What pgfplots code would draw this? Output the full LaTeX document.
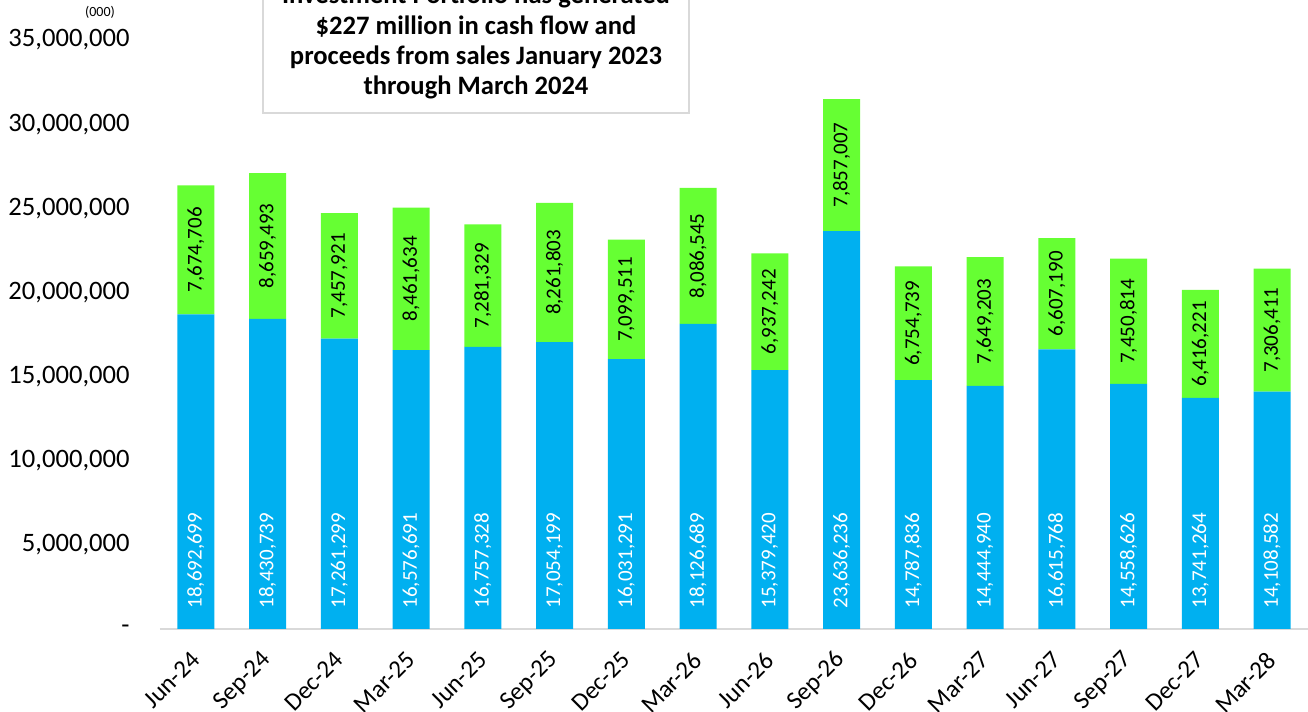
\documentclass[border=0pt]{standalone}
\usepackage{pgfplots}
\pgfplotsset{compat=1.18}
\usepackage{pgfplotstable}
\usepackage{fontspec}
\setmainfont{Carlito}
\definecolor{cblue}{HTML}{00B0F0}
\definecolor{cgreen}{HTML}{66FF33}
\definecolor{cgrid}{HTML}{D9D9D9}
\pgfplotstableread{
x b g bl gl
0 18692699 7674706 18,692,699 7,674,706
1 18430739 8659493 18,430,739 8,659,493
2 17261299 7457921 17,261,299 7,457,921
3 16576691 8461634 16,576,691 8,461,634
4 16757328 7281329 16,757,328 7,281,329
5 17054199 8261803 17,054,199 8,261,803
6 16031291 7099511 16,031,291 7,099,511
7 18126689 8086545 18,126,689 8,086,545
8 15379420 6937242 15,379,420 6,937,242
9 23636236 7857007 23,636,236 7,857,007
10 14787836 6754739 14,787,836 6,754,739
11 14444940 7649203 14,444,940 7,649,203
12 16615768 6607190 16,615,768 6,607,190
13 14558626 7450814 14,558,626 7,450,814
14 13741264 6416221 13,741,264 6,416,221
15 14108582 7306411 14,108,582 7,306,411
}\datatable
\begin{document}
\begin{tikzpicture}
\useasboundingbox (-80pt,-41.5pt) rectangle (574pt,314.5pt);
\pgfplotsset{common/.style={
  at={(0,0)}, anchor=south west,
  width=574pt, height=294.5pt, scale only axis,
  xmin=-0.5, xmax=15.5, ymin=0, ymax=35000000}}
\begin{axis}[common,
  ybar stacked, bar width=0.516,
  axis x line=bottom, axis y line=left,
  axis line style={-},
  x axis line style={draw=cgrid, line width=1pt},
  y axis line style={draw=none},
  major tick length=0pt,
  scaled y ticks=false,
  xtick={0,...,15},
  xticklabels={Jun-24,Sep-24,Dec-24,Mar-25,Jun-25,Sep-25,Dec-25,Mar-26,Jun-26,Sep-26,Dec-26,Mar-27,Jun-27,Sep-27,Dec-27,Mar-28},
  xticklabel style={font=\fontsize{12.5}{15}\selectfont, inner sep=0pt, rotate=45, anchor=east},
  xticklabel shift=13.5pt,
  ytick={0,5000000,10000000,15000000,20000000,25000000,30000000,35000000},
  yticklabels={{-\hspace{2pt}},{5,000,000},{10,000,000},{15,000,000},{20,000,000},{25,000,000},{30,000,000},{35,000,000}},
  yticklabel style={font=\fontsize{13.3}{15}\selectfont, inner sep=0pt, anchor=east},
  yticklabel shift=15pt,
  /pgf/number format/assume math mode=true,
]
\addplot[fill=cblue, draw=none] table[x=x, y=b] {\datatable};
\addplot[fill=cgreen, draw=none] table[x=x, y=g] {\datatable};
\end{axis}
\begin{axis}[common, hide axis]
\addplot[draw=none, mark=none, nodes near coords, point meta=explicit symbolic,
  nodes near coords style={rotate=90, anchor=west, inner sep=0pt, text=white, font=\fontsize{10.5}{12}\selectfont}]
  table[x=x, y expr=1200000, meta=bl] {\datatable};
\addplot[draw=none, mark=none, nodes near coords, point meta=explicit symbolic,
  nodes near coords style={rotate=90, anchor=center, inner sep=0pt, text=black, font=\fontsize{10.5}{12}\selectfont}]
  table[x=x, y expr=\thisrow{b}+\thisrow{g}/2, meta=gl] {\datatable};
\end{axis}
% title box
\draw[draw=cgrid, line width=1.2pt, fill=white] (51.5pt,258pt) rectangle (264.5pt,340pt);
\begin{scope}[every node/.style={font=\bfseries\fontsize{13.3}{15.25}\selectfont, anchor=base, inner sep=0pt}]
\node at (158pt,312.5pt) {Investment Portfolio has generated};
\node at (158pt,297.25pt) {\$227 million in cash flow and};
\node at (158pt,282pt) {proceeds from sales January 2023};
\node at (158pt,267pt) {through March 2024};
\end{scope}
\node[font=\fontsize{7}{8}\selectfont, inner sep=0pt] at (-30pt,308.5pt) {(000)};
\end{tikzpicture}
\end{document}
